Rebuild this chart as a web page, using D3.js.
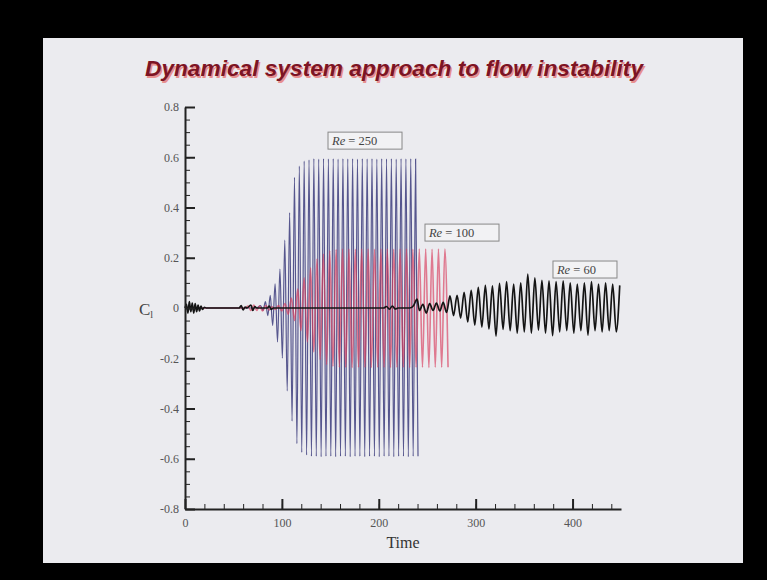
<!DOCTYPE html>
<meta charset="utf-8">
<style>
  body { margin: 0; background: #000; }
  svg { display: block; }
</style>
<body>
<script src="https://d3js.org/d3.v7.min.js"></script>
<div id="chart"></div>
<script>
const W = 767, H = 580;

// lift coefficient extrema: [time, C_l]
const re250 = [
  [0,0],[74,0],[78,0.01],[80.5,-0.01],[83,0.025],[85.5,-0.03],[88,0.05],[90.5,-0.07],
  [93,0.096],[95.5,-0.135],[98,0.155],[100.5,-0.2],[103,0.27],[105.5,-0.33],[108,0.38],
  [110.5,-0.45],[113,0.52],[115.5,-0.54],[118,0.565],[120.5,-0.575],[123,0.585],[125.5,-0.585],
  [128,0.59],[130.5,-0.59],[133,0.595],[135.5,-0.59],[138,0.593],[140.5,-0.592],[143,0.595],
  [145.5,-0.59],[148,0.594],[150.5,-0.59],[153,0.595],[155.5,-0.592],[158,0.593],[160.5,-0.59],
  [163,0.595],[165.5,-0.59],[168,0.594],[170.5,-0.592],[173,0.595],[175.5,-0.59],[178,0.593],
  [180.5,-0.59],[183,0.595],[185.5,-0.592],[188,0.594],[190.5,-0.59],[193,0.595],[195.5,-0.59],
  [198,0.593],[200.5,-0.592],[203,0.595],[205.5,-0.59],[208,0.594],[210.5,-0.59],[213,0.595],
  [215.5,-0.592],[218,0.593],[220.5,-0.59],[223,0.595],[225.5,-0.59],[228,0.594],[230.5,-0.592],
  [233,0.595],[235.5,-0.59],[238,0.593],[240.5,-0.59]
];

const re100 = [
  [0,0],[62,0],[65,0.008],[68,-0.01],[71,0.012],[74,-0.01],[77,0.008],[80,-0.012],[83.5,0.01],
  [86.7,-0.008],[90,0.005],[93.3,-0.006],[96.6,0.01],[99.9,-0.012],[103.2,0.018],[106.5,-0.025],
  [109.8,0.04],[113.1,-0.05],[116.4,0.075],[119.7,-0.09],[123,0.12],[126.3,-0.135],[129.6,0.16],
  [132.9,-0.175],[136.2,0.195],[139.5,-0.205],[142.8,0.215],[146.1,-0.225],[149.4,0.228],
  [152.7,-0.232],[156,0.233],[159.3,-0.236],[162.6,0.235],[165.9,-0.236],[169.2,0.235],
  [172.5,-0.237],[175.8,0.234],[179.1,-0.236],[182.4,0.235],[185.7,-0.236],[189,0.235],
  [192.3,-0.237],[195.6,0.234],[198.9,-0.236],[202.2,0.235],[205.5,-0.236],[208.8,0.235],
  [212.1,-0.237],[215.4,0.234],[218.7,-0.236],[222,0.235],[225.3,-0.236],[228.6,0.235],
  [231.9,-0.237],[235.2,0.234],[238.5,-0.236],[241.8,0.235],[245.1,-0.236],[248.4,0.235],
  [251.7,-0.237],[255,0.234],[258.3,-0.236],[261.6,0.235],[264.9,-0.236],[268.2,0.235],
  [271.5,-0.236]
];

const re60 = [
  [0,0],[1.5,0.015],[3,-0.02],[4.5,0.025],[6,-0.015],[7.5,0.02],[9,-0.02],[10.5,0.018],
  [12,-0.015],[13.5,0.012],[15,-0.012],[16.5,0.008],[18,-0.006],[20,0.003],[22,0],[56,0],
  [58,0.01],[60,-0.008],[62,0.004],[64,0],[68,0.012],[70,-0.01],[72,0.006],[74,0],[85,0],
  [87,0.008],[89,-0.006],[91,0],[205,0],[208,0.006],[211,-0.005],[214,0.008],[217,-0.004],
  [220,0],[232,0],[236,0.01],[239.5,0.035],[242,-0.01],[245.5,0.015],[249,-0.02],[252.5,0.018],
  [256,-0.01],[259.5,0.02],[263,-0.012],[266.5,0.022],[270,-0.018],
  [273.5,0.048],[277.2,-0.03],[280.8,0.05],[284.5,-0.04],[288.1,0.062],[291.8,-0.055],
  [295.4,0.07],[299.1,-0.068],[302.7,0.082],[306.4,-0.076],[310,0.09],[313.7,-0.083],
  [317.3,0.088],[321,-0.112],[324.6,0.098],[328.3,-0.085],[331.9,0.105],[335.6,-0.09],
  [339.2,0.095],[342.9,-0.1],[346.5,0.1],[350.2,-0.095],[353.8,0.135],[357.5,-0.1],
  [361.1,0.12],[364.8,-0.088],[368.4,0.11],[372.1,-0.1],[375.7,0.108],[379.4,-0.11],
  [383,0.105],[386.7,-0.095],[390.3,0.108],[394,-0.09],[397.6,0.1],[401.3,-0.1],
  [404.9,0.095],[408.6,-0.09],[412.2,0.1],[415.9,-0.108],[419.5,0.105],[423.2,-0.09],
  [426.8,0.095],[430.5,-0.095],[434.1,0.1],[437.8,-0.09],[441.4,0.095],[445.1,-0.095],
  [448.7,0.09]
];

const reNumbers = ["250", "100", "60"];
const xTicks = [0, 100, 200, 300, 400];
const yTicks = [-0.8, -0.6, -0.4, -0.2, 0, 0.2, 0.4, 0.6, 0.8];
const title = "Dynamical system approach to flow instability";

const svg = d3.select("#chart").append("svg")
  .attr("width", W)
  .attr("height", H);

svg.append("rect").attr("width", W).attr("height", H).attr("fill", "#000");
svg.append("rect")
  .attr("x", 43).attr("y", 38)
  .attr("width", 700).attr("height", 525)
  .attr("fill", "#ebebef");

const x = d3.scaleLinear().domain([0, 450]).range([185, 621]);
const y = d3.scaleLinear().domain([-0.8, 0.8]).range([509, 107]);

const line = d3.line()
  .x(d => x(d[0]))
  .y(d => y(d[1]))
  .curve(d3.curveMonotoneX);

// series, bottom to top
svg.append("path").datum(re250)
  .attr("d", line).attr("fill", "none")
  .attr("stroke", "#3c3c7c").attr("stroke-width", 1.2).attr("stroke-opacity", 0.85);

svg.append("path").datum(re100)
  .attr("d", line).attr("fill", "none")
  .attr("stroke", "#d83c5c").attr("stroke-width", 1.6).attr("stroke-opacity", 0.65);

svg.append("path").datum(re60)
  .attr("d", line).attr("fill", "none")
  .attr("stroke", "#141414").attr("stroke-width", 1.7);

// axes
const serif = "'Liberation Serif', 'Times New Roman', serif";

function styleAxis(g) {
  g.attr("font-family", serif).attr("font-size", 12);
  g.selectAll("text").attr("fill", "#555");
  g.selectAll("line").attr("stroke", "#222");
  g.select(".domain").attr("stroke", "#222").attr("stroke-width", 2);
}

svg.append("g")
  .attr("transform", "translate(185,0)")
  .call(d3.axisLeft(y).tickValues(d3.range(-0.8, 0.801, 0.05)).tickSize(-5).tickFormat(""))
  .call(g => g.select(".domain").remove())
  .call(g => g.selectAll("line").attr("stroke", "#222"));

svg.append("g")
  .attr("transform", "translate(0,509)")
  .call(d3.axisBottom(x).tickValues(d3.range(0, 451, 20)).tickSize(-5).tickFormat(""))
  .call(g => g.select(".domain").remove())
  .call(g => g.selectAll("line").attr("stroke", "#222"));

svg.append("g")
  .attr("transform", "translate(185,0)")
  .call(d3.axisLeft(y).tickValues(yTicks).tickSizeInner(-10).tickSizeOuter(0).tickPadding(6)
    .tickFormat(d => d === 0 ? "0" : d.toFixed(1)))
  .call(styleAxis)
  .call(g => g.selectAll(".tick line").attr("stroke-width", 2));

svg.append("g")
  .attr("transform", "translate(0,509)")
  .call(d3.axisBottom(x).tickValues(xTicks).tickSizeInner(-10).tickSizeOuter(0).tickPadding(9))
  .call(styleAxis)
  .call(g => g.selectAll(".tick line").attr("stroke-width", 2));

// axis titles
svg.append("text")
  .attr("x", x(225)).attr("y", 548)
  .attr("text-anchor", "middle")
  .attr("font-family", serif).attr("font-size", 16).attr("fill", "#333")
  .text("Time");

const cl = svg.append("text")
  .attr("x", 139).attr("y", 315)
  .attr("font-family", serif).attr("font-size", 17).attr("fill", "#444");
cl.append("tspan").text("C");
cl.append("tspan").attr("font-size", 10).attr("dy", 3).text("l");

// Re labels in boxes, anchored by their top-left corner in data units
const labelAnchors = [[147.6, 0.70], [247.7, 0.334], [379.8, 0.187]];
const labelWidths = [74, 74, 64];
reNumbers.forEach((num, i) => {
  const [t, v] = labelAnchors[i];
  const bx = x(t), by = y(v);
  svg.append("rect")
    .attr("x", bx).attr("y", by)
    .attr("width", labelWidths[i]).attr("height", 17)
    .attr("fill", "#f2f2f4").attr("stroke", "#888").attr("stroke-width", 1);
  const txt = svg.append("text")
    .attr("x", bx + 4).attr("y", by + 13)
    .attr("font-family", serif).attr("font-size", 12.5).attr("fill", "#444");
  txt.append("tspan").attr("font-style", "italic").text("Re");
  txt.append("tspan").text(" = " + num);
});

// slide title
const titleFont = "'Liberation Sans', Arial, sans-serif";
svg.append("text")
  .attr("x", 395.5).attr("y", 77.5)
  .attr("text-anchor", "middle")
  .attr("font-family", titleFont).attr("font-size", 22.7)
  .attr("font-weight", "bold").attr("font-style", "italic")
  .attr("fill", "#e89090")
  .text(title);
svg.append("text")
  .attr("x", 394).attr("y", 76)
  .attr("text-anchor", "middle")
  .attr("font-family", titleFont).attr("font-size", 22.7)
  .attr("font-weight", "bold").attr("font-style", "italic")
  .attr("fill", "#7d1424")
  .text(title);
</script>
</body>
